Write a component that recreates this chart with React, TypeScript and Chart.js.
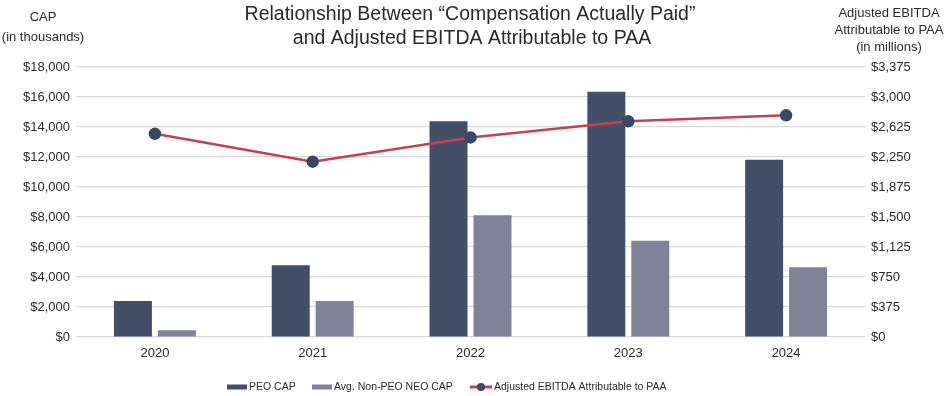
import React, { useEffect, useRef } from "react";
import { Chart, registerables } from "chart.js";

Chart.register(...registerables);

const years = ["2020", "2021", "2022", "2023", "2024"];
const peoCap = [2400, 4780, 14380, 16350, 11820];
const neoCap = [450, 2400, 8110, 6420, 4650];
const ebitda = [2540, 2192, 2495, 2696, 2771];

const titleLines = ["Relationship Between \u201cCompensation Actually Paid\u201d", "and Adjusted EBITDA Attributable to PAA"];
const leftTitle = ["CAP", "(in thousands)"];
const rightTitle = ["Adjusted EBITDA", "Attributable to PAA", "(in millions)"];
const legendLabels = ["PEO CAP", "Avg. Non-PEO NEO CAP", "Adjusted EBITDA Attributable to PAA"];

const FONT = "'Liberation Sans', Arial, Helvetica, sans-serif";
const C_PEO = "#434e69";
const C_NEO = "#818198";
const C_LINE = "#c8404f";
const C_PT = "#3b4764";
const TXT = "#2a2a2a";

const decor = {
  id: "decor",
  afterDraw(chart: any) {
    const ctx = chart.ctx;
    ctx.save();
    ctx.fillStyle = TXT;
    ctx.textAlign = "center";
    ctx.textBaseline = "middle";
    ctx.font = `19.5px ${FONT}`;
    ctx.fillText(titleLines[0], 470, 15);
    ctx.fillText(titleLines[1], 472, 39);
    ctx.font = `13px ${FONT}`;
    ctx.fillText(leftTitle[0], 43, 17);
    ctx.fillText(leftTitle[1], 43, 37);
    ctx.fillText(rightTitle[0], 889, 13);
    ctx.fillText(rightTitle[1], 889, 30);
    ctx.fillText(rightTitle[2], 889, 47);

    // legend
    const y = 387;
    ctx.font = `10.5px ${FONT}`;
    ctx.textAlign = "left";
    ctx.fillStyle = C_PEO;
    ctx.fillRect(227, y - 2.5, 20, 5);
    ctx.fillStyle = TXT;
    ctx.fillText(legendLabels[0], 249, y);
    ctx.fillStyle = C_NEO;
    ctx.fillRect(312, y - 2.5, 20, 5);
    ctx.fillStyle = TXT;
    ctx.fillText(legendLabels[1], 334, y);
    ctx.strokeStyle = C_LINE;
    ctx.lineWidth = 3;
    ctx.beginPath();
    ctx.moveTo(470, y);
    ctx.lineTo(492, y);
    ctx.stroke();
    ctx.fillStyle = C_PT;
    ctx.beginPath();
    ctx.arc(481, y, 4, 0, Math.PI * 2);
    ctx.fill();
    ctx.fillStyle = TXT;
    ctx.fillText(legendLabels[2], 494, y);
    ctx.restore();
  },
};

export default function App() {
  const ref = useRef<HTMLCanvasElement>(null);
  useEffect(() => {
    if (!ref.current) return;
    const chart = new Chart(ref.current, {
      type: "bar",
      data: {
        labels: years,
        datasets: [
          {
            type: "line",
            label: legendLabels[2],
            data: ebitda,
            yAxisID: "y1",
            borderColor: C_LINE,
            borderWidth: 2.5,
            pointBackgroundColor: C_PT,
            pointBorderColor: C_PT,
            pointRadius: 5,
            order: 0,
          } as any,
          {
            label: legendLabels[0],
            data: peoCap,
            backgroundColor: C_PEO,
            yAxisID: "y",
            order: 1,
            categoryPercentage: 0.557,
            barPercentage: 0.864,
          },
          {
            label: legendLabels[1],
            data: neoCap,
            backgroundColor: C_NEO,
            yAxisID: "y",
            order: 1,
            categoryPercentage: 0.557,
            barPercentage: 0.864,
          },
        ],
      },
      options: {
        animation: false,
        responsive: false,
        maintainAspectRatio: false,
        layout: { padding: { top: 67, left: 0, right: 0, bottom: 0 } },
        plugins: { legend: { display: false }, title: { display: false }, tooltip: { enabled: false } },
        scales: {
          x: {
            grid: { display: false, drawTicks: false },
            border: { display: false },
            ticks: { color: TXT, font: { family: FONT, size: 13 }, padding: 9 },
            afterFit(s: any) {
              s.height = 59;
            },
          },
          y: {
            position: "left",
            min: 0,
            max: 18000,
            ticks: {
              stepSize: 2000,
              color: TXT,
              padding: 6,
              font: { family: FONT, size: 13 },
              callback: (v: any) => "$" + Number(v).toLocaleString("en-US"),
            },
            grid: { color: "#d9d9d9", lineWidth: 1.2, drawTicks: false },
            border: { display: false },
            afterFit(s: any) {
              s.width = 76;
            },
          },
          y1: {
            position: "right",
            min: 0,
            max: 3375,
            ticks: {
              stepSize: 375,
              color: TXT,
              padding: 6,
              font: { family: FONT, size: 13 },
              callback: (v: any) => "$" + Number(v).toLocaleString("en-US"),
            },
            grid: { display: false, drawTicks: false },
            border: { display: false },
            afterFit(s: any) {
              s.width = 81;
            },
          },
        },
      },
      plugins: [decor],
    });
    return () => chart.destroy();
  }, []);
  return (
    <div style={{ position: "fixed", left: 0, top: 0, width: 946, height: 396, background: "#fff" }}>
      <canvas ref={ref} width={946} height={396} style={{ width: 946, height: 396 }} />
    </div>
  );
}
